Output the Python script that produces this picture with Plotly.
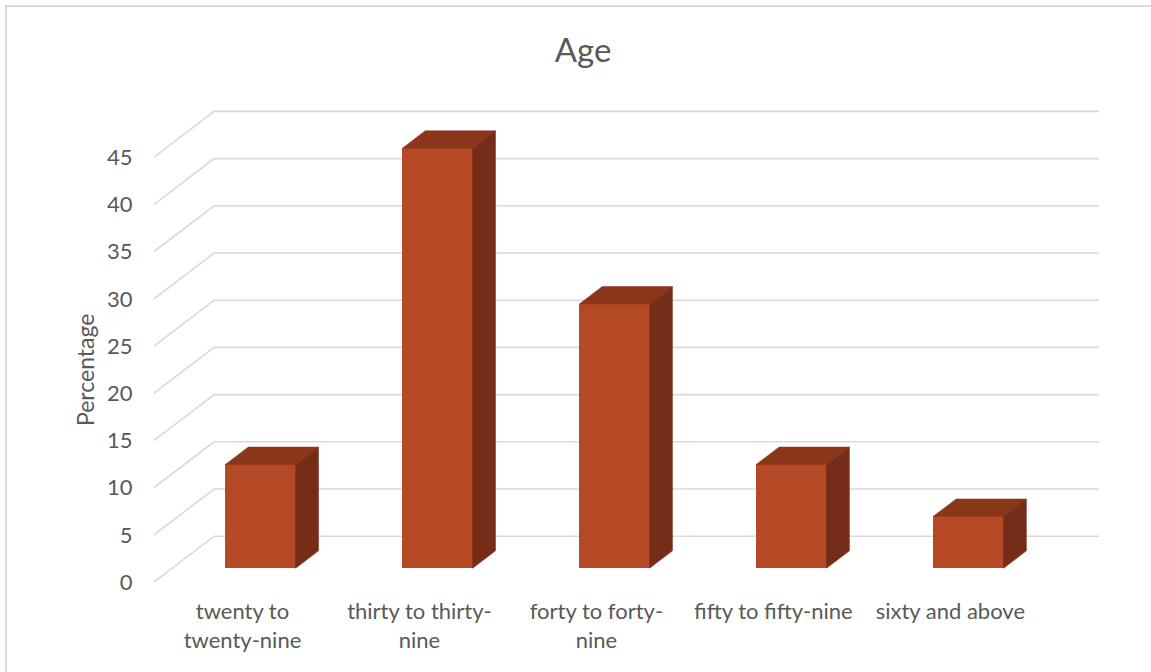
import plotly.graph_objects as go

# Age distribution of respondents (percent)
categories = ["twenty to<br>twenty-nine", "thirty to thirty-<br>nine", "forty to forty-<br>nine",
              "fifty to fifty-nine", "sixty and above"]
percentages = [11, 44.5, 28, 11, 5.5]
y_ticks = [0, 5, 10, 15, 20, 25, 30, 35, 40, 45]

# Oblique 3D projection, expressed in axis units
DEPTH_X = 0.34      # horizontal shift from front edge to back wall
DEPTH_Y = 4.85      # vertical shift from front edge to back wall
BAR_FRONT = 0.30    # depth fraction of the bar front face
BAR_BACK = 0.68     # depth fraction of the bar back face
BAR_W = 0.397
X_MIN, X_MAX = -0.5, len(categories) - 0.5 + DEPTH_X
Y_MAX = 50

FRONT = "#B54825"
TOP = "#8B361B"
SIDE = "#752D18"
GRID = "#D9D9D9"
TEXT = "#595959"
FONT = "Lato"

W, H = 1151, 672
M_L, M_R, M_T, M_B = 154, W - 1099, 110, H - 582

fig = go.Figure()

# back wall and side wall gridlines, kept underneath the bars
grid_shapes = []
for v in y_ticks:
    path = (f"M {X_MIN},{v} L {X_MIN + DEPTH_X},{v + DEPTH_Y} "
            f"L {X_MAX},{v + DEPTH_Y}")
    grid_shapes.append(dict(type="path", xref="x", yref="y", path=path,
                            line=dict(color=GRID, width=1.6), layer="below"))

idx = list(range(len(categories)))
b0 = BAR_FRONT * DEPTH_Y
b1 = BAR_BACK * DEPTH_Y
sx0 = BAR_FRONT * DEPTH_X
sx1 = BAR_BACK * DEPTH_X

# front faces
fig.add_trace(go.Bar(
    x=[i + sx0 for i in idx], y=percentages, base=b0, width=BAR_W,
    marker=dict(color=FRONT, line=dict(width=0)),
    hoverinfo="skip", showlegend=False))

# top and side faces
for i, v in zip(idx, percentages):
    xl = i + sx0 - BAR_W / 2
    xr = i + sx0 + BAR_W / 2
    dx = sx1 - sx0
    fig.add_trace(go.Scatter(
        x=[xl, xr, xr + dx, xl + dx, xl],
        y=[v + b0, v + b0, v + b1, v + b1, v + b0],
        fill="toself", fillcolor=TOP, mode="lines",
        line=dict(color=TOP, width=0.5), hoverinfo="skip", showlegend=False))
    fig.add_trace(go.Scatter(
        x=[xr, xr, xr + dx, xr + dx, xr],
        y=[b0, v + b0, v + b1, b1, b0],
        fill="toself", fillcolor=SIDE, mode="lines",
        line=dict(color=SIDE, width=0.5), hoverinfo="skip", showlegend=False))

plot_w = W - M_L - M_R
plot_h = H - M_T - M_B


def px_to_paper(px, py):
    return (px - M_L) / plot_w, (H - M_B - py) / plot_h


bx0, by0 = px_to_paper(6, 6)
bx1, by1 = px_to_paper(W + 10, H + 10)
ax_x, ax_y = px_to_paper(85, 370)

border = dict(type="rect", xref="paper", yref="paper", x0=bx0, y0=by1, x1=bx1, y1=by0,
              line=dict(color=GRID, width=2), fillcolor="rgba(0,0,0,0)", layer="below")

fig.update_layout(
    width=W, height=H,
    margin=dict(l=M_L, r=M_R, t=M_T, b=M_B, pad=0),
    paper_bgcolor="white", plot_bgcolor="white",
    font=dict(family=FONT, color=TEXT, size=22),
    title=dict(text="Age", x=583 / W, xanchor="center", y=1 - 50 / H, yanchor="middle",
               font=dict(family=FONT, size=33, color=TEXT)),
    xaxis=dict(range=[X_MIN, X_MAX], tickmode="array", tickvals=idx, ticktext=categories,
               showgrid=False, zeroline=False, showline=False,
               ticks="outside", ticklen=10, tickcolor="rgba(0,0,0,0)",
               tickfont=dict(family=FONT, size=22, color=TEXT), fixedrange=True),
    yaxis=dict(range=[0, Y_MAX], tickmode="array", tickvals=y_ticks,
               showgrid=False, zeroline=False, showline=False,
               ticks="outside", ticklen=16, tickcolor="rgba(0,0,0,0)",
               tickfont=dict(family=FONT, size=22, color=TEXT), fixedrange=True),
    bargap=0,
    shapes=grid_shapes + [border],
    annotations=[dict(text="Percentage", xref="paper", yref="paper", x=ax_x, y=ax_y,
                      textangle=-90, showarrow=False, xanchor="center", yanchor="middle",
                      font=dict(family=FONT, size=23, color=TEXT))],
)

fig.write_html("out.html")
